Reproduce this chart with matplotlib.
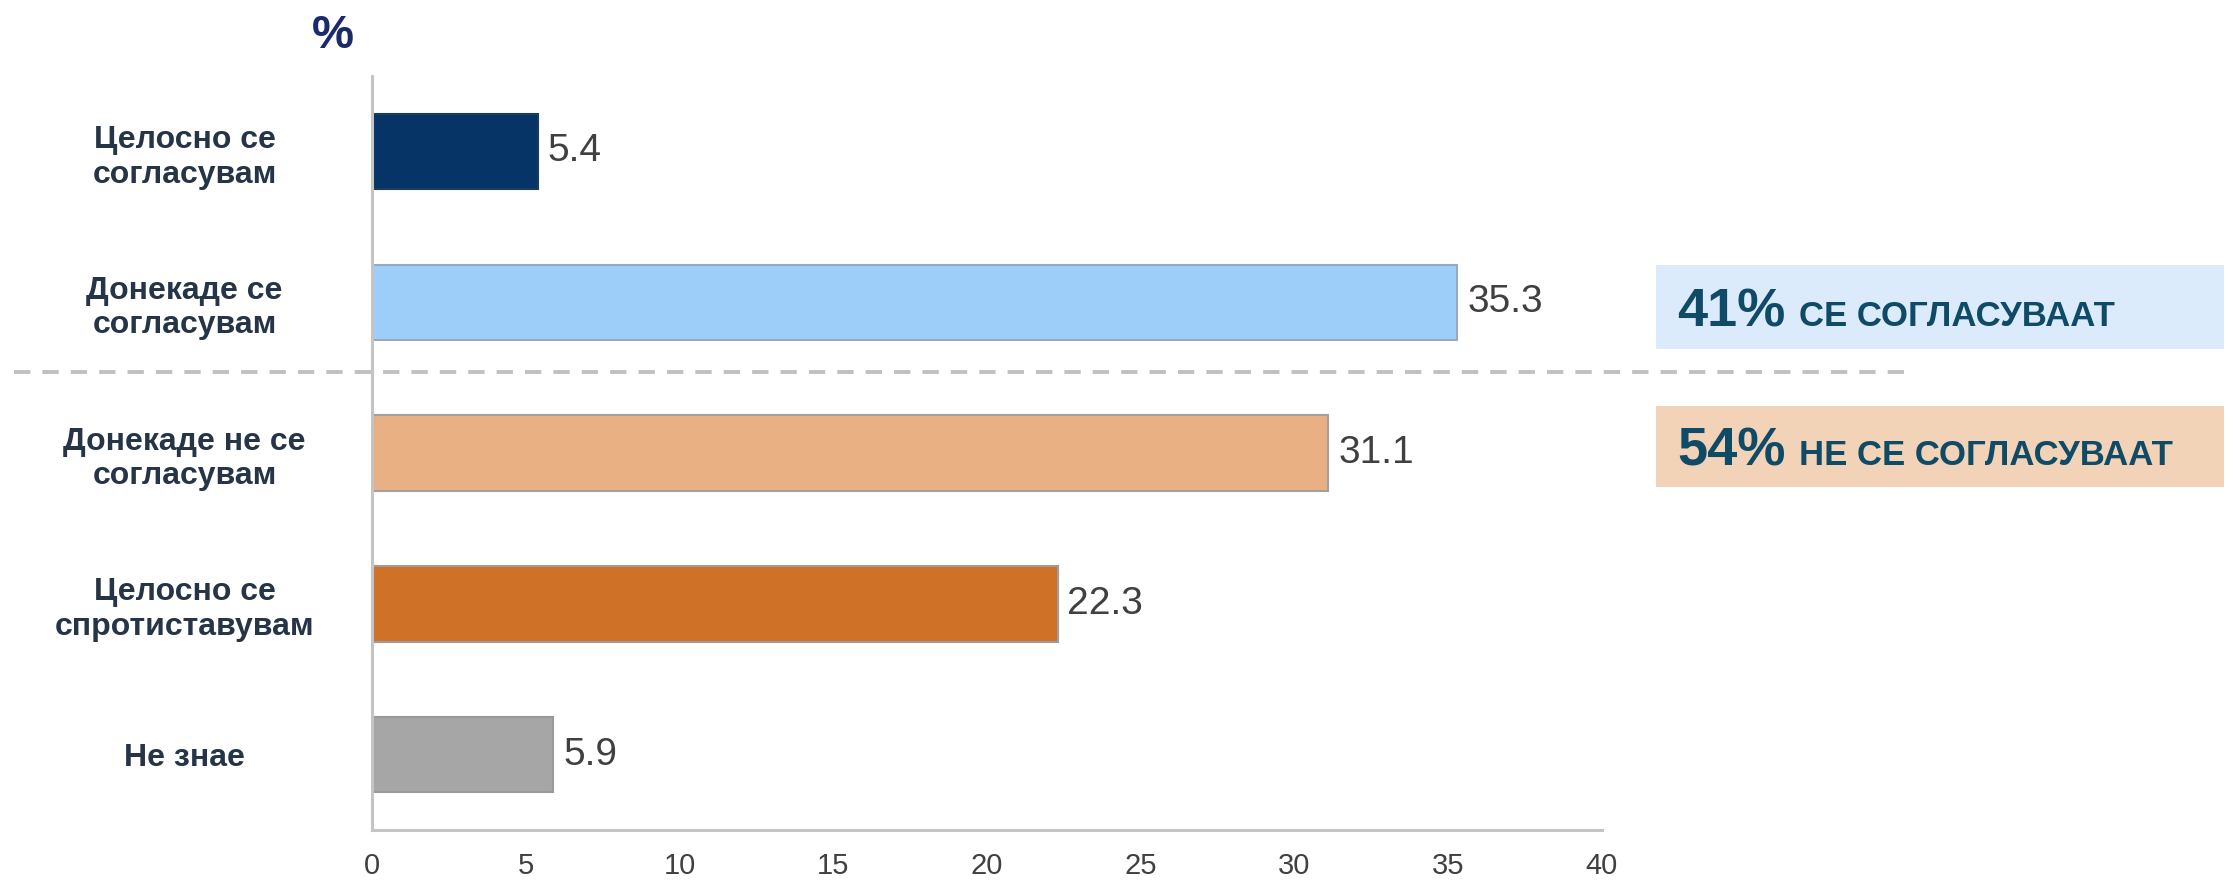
import matplotlib
matplotlib.use("Agg")
import matplotlib.pyplot as plt
import matplotlib.transforms as mtransforms
from matplotlib.patches import Rectangle

categories = ["Целосно се\nсогласувам", "Донекаде се\nсогласувам", "Донекаде не се\nсогласувам",
              "Целосно се\nспротиставувам", "Не знае"]
values = [5.4, 35.3, 31.1, 22.3, 5.9]
bar_colors = ["#063466", "#9dcefa", "#e8b083", "#d07128", "#a6a6a6"]
edge_colors = ["#1c3a5e", "#9aa9b8", "#a5a0a0", "#a09a98", "#9a9a9a"]
xticks = [0, 5, 10, 15, 20, 25, 30, 35, 40]
box_texts = [("41%", "СЕ СОГЛАСУВААТ"), ("54%", "НЕ СЕ СОГЛАСУВААТ")]
box_colors = ["#dbebfb", "#f2d3b8"]

W, H = 2233, 880
fig = plt.figure(figsize=(W / 100, H / 100), dpi=100)
ax = fig.add_axes([372 / W, 50 / H, (1602 - 372) / W, (832 - 78) / H])

y = list(range(len(values)))
ax.barh(y, values, height=0.5, color=bar_colors, edgecolor=edge_colors, linewidth=1.5)
ax.set_ylim(4.5, -0.5)
ax.set_xlim(0, 40)

for yi, v in zip(y, values):
    ax.annotate(f"{v:.1f}", xy=(v, yi), xytext=(7, 0), textcoords="offset points",
                va="center", ha="left", fontsize=28, color="#404040",
                family=["Liberation Sans", "DejaVu Sans"])

for s in ["top", "right"]:
    ax.spines[s].set_visible(False)
for s in ["left", "bottom"]:
    ax.spines[s].set_color("#c4c4c4")
    ax.spines[s].set_linewidth(2.2)

ax.set_yticks(y)
ax.set_yticklabels(categories, fontsize=23, fontweight="bold", color="#253447",
                   family=["Liberation Sans", "DejaVu Sans"], linespacing=1.2)
for lbl in ax.get_yticklabels():
    lbl.set_horizontalalignment("center")
ax.tick_params(axis="y", length=0, pad=135)
ax.set_xticks(xticks)
ax.set_xticklabels([str(t) for t in xticks], fontsize=21, color="#404040",
                   family=["Liberation Sans", "DejaVu Sans"])
ax.tick_params(axis="x", length=0, pad=16)

# dashed separator
trans = mtransforms.blended_transform_factory(fig.transFigure, ax.transData)
ax.plot([14 / W, 1908 / W], [1.46, 1.46], transform=trans, clip_on=False,
        color="#c0c0c0", linewidth=2.8, dashes=(4.2, 3.1), solid_capstyle="butt",
        dash_capstyle="butt")

# % title
fig.text(333 / W, 1 - 48 / H, "%", fontsize=34, fontweight="bold", color="#1b2a6b",
         ha="center", va="baseline", family=["Liberation Sans", "DejaVu Sans"])

# summary boxes
boxes = [(265, 349), (406, 487)]
fig.canvas.draw()
renderer = fig.canvas.get_renderer()
for (top, bot), col, (big, small) in zip(boxes, box_colors, box_texts):
    fig.patches.append(Rectangle((1656 / W, 1 - bot / H), (2224 - 1656) / W, (bot - top) / H,
                                 transform=fig.transFigure, facecolor=col, edgecolor="none"))
    base = 1 - (bot - (bot - top) * 0.27) / H
    t1 = fig.text(1677 / W, base, big, fontsize=39, fontweight="bold", color="#0f4a66",
                  ha="left", va="baseline",
                  family=["Liberation Sans", "DejaVu Sans"])
    ext = t1.get_window_extent(renderer)
    fig.text((ext.x1 + 14) / W, base, small, fontsize=25, fontweight="bold", color="#0f4a66",
             ha="left", va="baseline",
             family=["Liberation Sans", "DejaVu Sans"])

fig.savefig("out.png", dpi=100)
